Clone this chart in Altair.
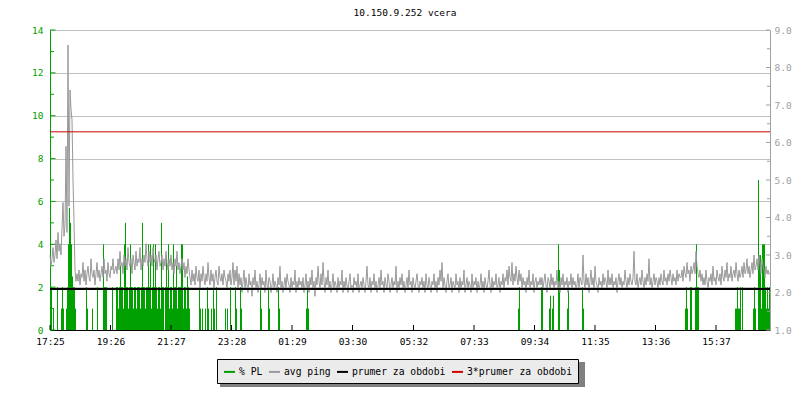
import altair as alt
import pandas as pd

TITLE = "10.150.9.252 vcera"
x_labels = ["17:25", "19:26", "21:27", "23:28", "01:29", "03:30",
            "05:32", "07:33", "09:34", "11:35", "13:36", "15:37"]
series_names = ["% PL", "avg ping", "prumer za obdobi", "3*prumer za obdobi"]
series_colors = ["#00a000", "#999999", "#000000", "#d00000"]
left_major = [0, 2, 4, 6, 8, 10, 12, 14]
left_minor = [1, 3, 5, 7, 9, 11, 13]
right_major = [1, 2, 3, 4, 5, 6, 7, 8, 9]
right_minor = [1.5, 2.5, 3.5, 4.5, 5.5, 6.5, 7.5, 8.5]

SAMPLE_STEP = 2    # minutes between samples
avg_ping = 2.095

# avg ping (ms), one value every 2 minutes from 17:25
ping = [
    3.0, 2.7, 2.9, 3.2, 2.8, 3.0, 3.4, 2.9, 3.6, 3.1, 3.3, 3.0, 3.7, 4.4, 3.5, 3.8,
    5.9, 3.6, 8.6, 4.3, 7.4, 6.9, 6.6, 5.0, 3.9, 2.6, 2.3, 2.5,
    2.3, 2.6, 2.2, 2.5, 2.4, 2.8, 2.3, 2.6, 2.2, 2.5, 2.7, 2.4, 2.3, 2.9, 2.5, 2.4, 2.6, 2.2, 2.5, 2.8,
    2.4, 2.6, 2.3, 2.5, 2.7, 2.4, 2.9, 2.5, 2.6, 2.3, 2.8, 2.5, 2.4, 2.7, 2.6, 2.9, 2.5, 2.6,
    2.7, 2.5, 2.9, 2.6, 3.1, 2.7, 2.8, 2.5, 3.0, 2.7, 2.9, 2.6, 3.2, 2.8, 2.7, 2.9, 2.5, 3.0, 2.8, 2.6,
    3.1, 2.7, 2.9, 2.8, 3.2, 2.6, 2.9, 2.7, 3.0, 2.8, 3.3, 2.9, 2.7, 3.1, 2.8, 3.0, 2.7, 3.2, 2.9, 2.8,
    3.0, 2.6, 2.9, 3.1, 2.7, 2.8, 3.0, 2.6, 2.9, 2.7, 3.1, 2.8, 2.6, 2.9, 2.7, 3.0, 2.6, 2.8, 2.5, 2.9,
    2.7, 3.1, 2.6, 2.8, 2.5, 2.7, 2.9, 2.6, 2.8, 2.4, 2.7, 2.5, 2.9, 2.6,
    2.4, 2.2, 2.6, 2.3, 2.5, 2.2, 2.7, 2.4, 2.3, 2.6, 2.1, 2.5, 2.3, 2.7, 2.4, 2.2, 2.5, 2.3, 2.8, 2.4,
    2.2, 2.6, 2.3, 2.5, 2.1, 2.4, 2.6, 2.3, 2.2, 2.7, 2.4, 2.3, 2.5, 2.2, 2.6, 2.4, 2.3, 2.1, 2.5, 2.3,
    2.6, 2.2,
    2.4, 2.8, 2.2, 2.6, 2.3, 2.7, 2.1, 2.5, 2.2, 2.4, 2.0, 2.3, 2.6, 2.1, 2.4, 2.2, 2.0, 2.5, 2.2, 2.3,
    1.9, 2.4, 2.2, 2.6, 2.1, 2.3, 2.0, 2.2, 2.5, 2.1, 2.4, 2.2, 2.3, 2.0, 2.6, 2.2, 2.1, 2.4, 2.3, 2.0,
    2.2, 2.5, 2.1, 2.3, 2.2, 2.0, 2.4, 2.2, 2.7, 2.1, 2.3, 2.0, 2.2, 2.4, 2.1, 2.5, 2.3, 2.2, 2.0, 2.4,
    2.1, 2.3, 2.2, 2.6, 2.0, 2.3, 2.1, 2.4, 2.2,
    2.3, 2.1, 2.4, 2.0, 2.2, 2.5, 2.1, 2.3, 2.0, 2.4, 2.2, 2.6, 2.1, 2.3, 1.9, 2.4, 2.2, 2.7, 2.3, 2.1,
    2.5, 2.2, 2.8, 2.3, 2.0, 2.4, 2.2, 2.6, 2.1, 2.3, 2.0, 2.2, 2.5, 2.1, 2.3, 2.2, 2.0, 2.4, 2.1, 2.3,
    2.2, 2.6, 2.0, 2.3, 2.1, 2.4, 2.2, 2.0, 2.3, 2.5, 2.1, 2.2, 2.0, 2.4, 2.2, 2.3, 2.1, 2.5, 2.0, 2.2,
    2.3, 2.1, 2.4, 2.2, 2.0, 2.3, 2.7, 2.2, 2.1, 2.4, 2.0, 2.3, 2.2, 2.5, 2.1, 2.3, 2.0, 2.2, 2.4, 2.1,
    2.6, 2.2, 2.3, 2.0, 2.4, 2.2, 2.1, 2.5, 2.3, 2.0, 2.2, 2.4, 2.1, 2.3, 2.2, 2.7, 2.0, 2.3, 2.1, 2.4,
    2.2, 2.5, 2.1, 2.3, 2.0, 2.2, 2.4, 2.1, 2.6, 2.2, 2.3, 2.0, 2.4, 2.2, 2.1, 2.3, 2.5, 2.2, 2.0, 2.3,
    2.2, 2.4, 2.1, 2.3, 2.0, 2.5, 2.2, 2.1, 2.4, 2.2, 2.0, 2.3, 2.2, 2.5, 2.1, 2.3, 2.0, 2.4, 2.2, 2.6,
    2.3, 2.8, 2.1, 2.4, 2.2, 2.0, 2.3, 2.5, 2.1, 2.2, 2.4, 2.0, 2.3, 2.2, 2.1, 2.5, 2.2, 2.3, 2.0, 2.4,
    2.1, 2.3, 2.2, 2.6, 2.0, 2.2, 2.4, 2.1, 2.3, 2.2, 2.0, 2.5, 2.1, 2.3, 2.2, 2.4, 2.0, 2.3, 2.1, 2.2,
    2.5, 2.1, 2.3, 2.0, 2.4, 2.2, 2.1, 2.3, 2.6, 2.2, 2.0, 2.4, 2.1, 2.3, 2.2, 2.5, 2.1, 2.2, 2.4, 2.0,
    2.3, 2.2, 2.5, 2.1, 2.4, 2.3, 2.6, 2.2, 2.7, 2.4, 2.3, 2.8, 2.2, 2.5, 2.3, 2.7, 2.4, 2.2, 2.6, 2.3,
    2.5, 2.1, 2.4, 2.2, 2.3, 2.0, 2.4, 2.2, 2.6, 2.1, 2.3, 2.2, 2.5, 2.0, 2.3, 2.4, 2.1, 2.3, 2.2, 2.4,
    2.2, 2.4, 2.1, 2.3, 2.5, 2.2, 2.0, 2.4, 2.3, 2.1, 2.5, 2.2, 2.4, 2.1, 2.3, 2.2, 2.6, 2.1, 2.3, 2.0,
    2.4, 2.2, 2.5, 2.1, 2.3, 2.2, 2.4, 2.0, 2.3, 2.2, 2.5, 2.1, 2.4, 2.2, 2.3, 2.1, 2.2, 2.5, 2.1, 2.4,
    2.3, 2.2, 3.0, 2.3, 2.1, 2.5, 2.2, 2.4, 2.0, 2.3, 2.6, 2.2, 2.4, 2.1, 2.7, 2.3, 2.2, 2.0, 2.4, 2.2,
    2.3, 2.1, 2.5, 2.2, 2.4, 2.3, 2.1, 2.6, 2.2, 2.4, 2.2, 2.5, 2.1, 2.3, 2.2, 2.4, 2.0, 2.3, 2.5, 2.2,
    2.4, 2.1, 2.3, 2.2, 2.6, 2.3, 2.1, 2.4, 2.2, 2.5, 2.3, 2.2, 2.4, 3.1, 2.3, 2.2, 2.5, 2.1, 2.3, 2.4,
    2.2, 2.6, 2.3, 2.1, 2.4, 2.2, 2.5, 2.3, 2.9, 2.2, 2.4, 2.1, 2.3, 2.5, 2.2, 2.4, 2.3, 2.1, 2.4, 2.2,
    2.5, 2.3, 2.2, 2.6, 2.3, 2.4, 2.2, 2.5, 2.3, 2.6, 2.4, 2.2, 2.5, 2.3, 2.4, 2.2, 2.6, 2.3, 2.5, 2.4,
    2.4, 2.6, 2.3, 2.7, 2.5, 2.4, 2.8, 2.5, 2.6, 2.3, 2.7, 2.5, 2.6, 2.8, 2.5, 3.1, 2.7, 2.5, 2.4, 2.6,
    2.3, 2.5, 2.2, 2.4, 2.2, 2.6, 2.3, 2.1, 2.4, 2.3, 2.5, 2.2, 2.7, 2.3, 2.4, 2.2, 2.6, 2.4, 2.3, 2.5,
    2.2, 2.7, 2.4, 2.3, 2.6, 2.4, 2.8, 2.3, 2.5, 2.4, 2.7, 2.3, 2.5, 2.6, 2.4, 2.8, 2.5, 2.3, 2.6, 2.4,
    2.5, 2.7, 2.4, 2.8, 2.5, 2.6, 2.9, 2.5, 2.7, 2.4, 2.6, 2.8, 2.5, 3.0, 2.6, 2.7, 2.9, 2.6, 3.0, 2.8,
    2.5, 2.9, 2.7, 2.6, 2.4, 2.7, 2.5, 2.6, 2.5,
]

# packet loss (%): minute since 17:25 and value
pl_minutes = [
    2, 6, 14, 22, 24, 26, 32, 34, 36, 38, 40, 42, 44, 46, 48, 50,
    72, 74, 84, 94, 106, 108, 110, 112, 124,
    132, 134, 136, 138, 140, 142, 144, 146, 148, 150, 152, 154, 156, 158, 160, 162,
    164, 166, 168, 170, 172, 174, 176, 178, 180, 182, 184, 186, 188, 190, 192, 194,
    196, 198, 200, 202, 204, 206, 208, 210, 212, 214, 216, 218, 220, 222, 224, 226,
    228, 230, 232, 234, 236, 238, 240, 242, 244, 246, 248, 250, 252, 254, 256, 258,
    260, 262, 264, 266, 268, 270, 272, 274, 276, 278,
    298, 300, 304, 310, 314, 316, 322, 326, 328, 332, 350, 354, 360,
    370, 372, 380, 382, 420, 422, 436, 438, 456, 458, 512, 514, 516,
    936, 938, 982, 984, 998, 1000, 1004, 1006, 1016, 1018, 1034, 1036, 1064, 1066,
    1270, 1272, 1274, 1280, 1282, 1290, 1292, 1294, 1296,
    1370, 1372, 1374, 1376, 1378, 1380, 1384, 1406, 1408, 1410,
    1416, 1418, 1420, 1422, 1424, 1426, 1428, 1430, 1432, 1434, 1436, 1438,
]
pl_values = [
    2, 1, 2, 1, 2, 1, 1, 2, 4, 5.7, 5, 4, 2.5, 2, 2, 1,
    2, 1, 1, 2, 4, 2, 2, 2, 2,
    2, 2, 1, 2, 3, 2, 2, 1, 4, 5, 2, 2, 1, 2, 4, 2,
    2, 1, 2, 2, 1, 2, 2, 2, 1, 2, 5, 2, 2, 1, 2, 2,
    4, 2, 4, 1, 2, 4, 2, 4, 2, 1, 2, 2, 1, 5, 2, 2,
    0, 2, 3.5, 2, 4, 1, 2, 2, 1, 4, 2, 2, 3, 1, 2, 2,
    2, 4, 4, 1, 2, 2, 1, 2.5, 2, 1,
    2, 1, 1, 1, 2, 1, 1, 2, 1, 2, 1, 1, 2,
    2, 1, 2, 1, 2, 1, 2, 1, 2, 1, 1, 2, 1,
    1, 2, 2, 2, 1, 1.6, 1, 1.6, 4, 2.8, 1, 2, 2, 1,
    1, 2, 1, 2, 2, 2, 4, 2, 2,
    1, 1, 2, 1, 1, 2, 2, 1, 2, 1,
    7, 3.5, 3.5, 1, 4, 4, 4, 2, 1, 2, 1, 2,
]

# ---------------------------------------------------------------- data frames
def hm_to_min(s):
    h, m = map(int, s.split(":"))
    return (h * 60 + m - (17 * 60 + 25)) % 1440

tick_minutes = [hm_to_min(s) for s in x_labels]

ping_df = pd.DataFrame({"m": [i * SAMPLE_STEP for i in range(len(ping))],
                        "p": ping, "s": series_names[1]})
pl_df = pd.DataFrame({"m": [m + SAMPLE_STEP / 2 for m in pl_minutes],
                      "v": pl_values, "v0": 0, "s": series_names[0]})
avg_df = pd.DataFrame({"p": [avg_ping], "s": [series_names[2]]})
avg3_df = pd.DataFrame({"p": [3 * avg_ping], "s": [series_names[3]]})

FONT = "DejaVu Sans Mono"
GREEN = series_colors[0]
AXGRAY = "#a0a0a0"

label_expr = "[" + ",".join(repr(l) for l in x_labels) + "][indexof([" + \
    ",".join(str(t) for t in tick_minutes) + "], datum.value)]"

x_enc = alt.X("m:Q",
              scale=alt.Scale(domain=[0, 1440], nice=False, zero=False),
              axis=alt.Axis(title=None, values=tick_minutes, labelExpr=label_expr,
                            ticks=False, grid=False, domainColor="black",
                            labelFont=FONT, labelFontSize=9.5, labelColor="black",
                            labelPadding=6, labelFlush=False, labelOverlap=False))

y_left = alt.Y("v:Q",
               scale=alt.Scale(domain=[0, 14], nice=False, zero=True),
               axis=alt.Axis(title=None, orient="left", values=left_major,
                             ticks=False, grid=True, gridColor="#c0c0c0",
                             domainColor=GREEN, labelColor=GREEN,
                             labelFont=FONT, labelFontSize=9.5, labelPadding=7,
                             labelFlush=False))

y_right = alt.Y("p:Q",
                scale=alt.Scale(domain=[1, 9], nice=False, zero=False),
                axis=alt.Axis(title=None, orient="right", values=right_major,
                              format=".1f", ticks=False, grid=False,
                              domainColor=AXGRAY, labelColor=AXGRAY,
                              labelFont=FONT, labelFontSize=9.5, labelPadding=4,
                              labelFlush=False))

legend = alt.Legend(title=None, orient="none", legendX=167, legendY=329,
                    direction="horizontal", symbolType="stroke",
                    symbolStrokeWidth=2, symbolSize=121,
                    labelFont=FONT, labelFontSize=9.7, labelColor="black",
                    labelOffset=3, columnPadding=2, padding=6,
                    fillColor="#ebebeb", strokeColor="black", zindex=1)
color_enc = alt.Color("s:N", scale=alt.Scale(domain=series_names, range=series_colors),
                      legend=legend)

# ---------------------------------------------------------------- left group
pl_layer = alt.Chart(pl_df).mark_rule(strokeWidth=1).encode(
    x=x_enc, y=y_left, y2=alt.Y2("v0:Q"), color=color_enc)

lmaj = alt.Chart(pd.DataFrame({"v": left_major})).mark_rule(color=GREEN).encode(
    y=y_left, x=alt.value(0), x2=alt.value(5.5))
lmin = alt.Chart(pd.DataFrame({"v": left_minor})).mark_rule(color=GREEN).encode(
    y=y_left, x=alt.value(0), x2=alt.value(4))
xt = alt.Chart(pd.DataFrame({"m": tick_minutes})).mark_rule(color="black").encode(
    x=x_enc, y=alt.value(300), y2=alt.value(295))

shadow = alt.Chart(pd.DataFrame({"a": [0]})).mark_rect(color="#808080").encode(
    x=alt.value(170), x2=alt.value(535), y=alt.value(332), y2=alt.value(357))

left = alt.layer(pl_layer, lmaj, lmin, xt, shadow)

# ---------------------------------------------------------------- right group
ping_layer = alt.Chart(ping_df).mark_line(strokeWidth=1).encode(
    x=x_enc, y=y_right, color=color_enc)
avg_layer = alt.Chart(avg_df).mark_rule(strokeWidth=2).encode(
    y=y_right, color=color_enc)
avg3_layer = alt.Chart(avg3_df).mark_rule(strokeWidth=1).encode(
    y=y_right, color=color_enc)
rmaj = alt.Chart(pd.DataFrame({"p": right_major})).mark_rule(color=AXGRAY).encode(
    y=y_right, x=alt.value(716), x2=alt.value(720))
rmin = alt.Chart(pd.DataFrame({"p": right_minor})).mark_rule(color=AXGRAY).encode(
    y=y_right, x=alt.value(717), x2=alt.value(720))

right = alt.layer(ping_layer, avg_layer, avg3_layer, rmaj, rmin)

chart = alt.layer(left, right).resolve_scale(y="independent").properties(
    width=720, height=300,
    title=alt.TitleParams(TITLE, font=FONT, fontSize=9.5, fontWeight="normal",
                          color="black", anchor="middle", offset=8, dx=-5),
    autosize=alt.AutoSizeParams(type="none"),
    padding={"left": 42, "top": 22, "right": 22, "bottom": 62},
).configure_view(strokeWidth=0).configure(background="white")

chart.save("out.html", embed_options={"renderer": "svg", "actions": False})
